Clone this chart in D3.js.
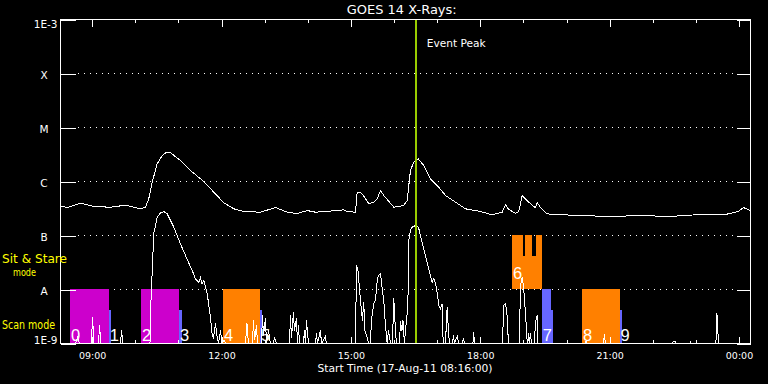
<!doctype html>
<html lang="en">
<head>
  <meta charset="utf-8">
  <title>GOES 14 X-Rays</title>
  <script src="https://cdn.jsdelivr.net/npm/d3@7"></script>
  <style>
    body { margin: 0; background: #000; }
    svg { display: block; font-family: "DejaVu Sans", sans-serif; }
  </style>
</head>
<body>
  <script type="text/javascript">
    // plot start 17-Aug-11 08:16:00, all times below are minutes after it
    var startTime = new Date(2011, 7, 17, 8, 16, 0);
    var endMinute = 960;
    var eventPeakMinute = 495;

    var levelValues = [1e-3, 1e-4, 1e-5, 1e-6, 1e-7, 1e-8, 1e-9];
    var levelLabels = ["1E-3", "X", "M", "C", "B", "A", "1E-9"];

    // 1-8 A channel [minute, W/m2]
    var xrsLong = [
      [0, 3.55e-7], [9.3, 3.30e-7], [27.8, 3.96e-7], [46.3, 3.44e-7], [69.6, 3.34e-7],
      [90.4, 3.64e-7], [111.3, 3.12e-7], [118.2, 3.34e-7], [122.8, 4.79e-7], [127.6, 9.7e-7],
      [134.5, 2.13e-6], [141.5, 3.03e-6], [147.5, 3.49e-6], [153.0, 3.40e-6], [167.0, 2.45e-6],
      [180.8, 1.60e-6], [199.3, 1.0e-6], [213.3, 6.34e-7], [227.2, 4.04e-7], [241.1, 3.12e-7],
      [255.0, 2.78e-7], [278.2, 2.70e-7], [299.1, 3.30e-7], [315.4, 2.70e-7], [329.3, 2.55e-7],
      [343.2, 2.90e-7], [354.7, 2.70e-7], [373.2, 2.82e-7], [394.1, 2.99e-7], [398.8, 2.78e-7],
      [410.4, 2.70e-7], [412.7, 6.18e-7], [417.3, 6.34e-7], [421.9, 5.35e-7], [428.9, 3.87e-7],
      [435.8, 4.14e-7], [440.6, 4.79e-7], [445.2, 6.81e-7], [449.8, 5.51e-7], [463.7, 3.34e-7],
      [477.6, 3.60e-7], [482.3, 4.45e-7], [486.9, 1.60e-6], [491.5, 2.28e-6], [497.6, 2.63e-6],
      [505.4, 1.98e-6], [514.7, 1.12e-6], [526.3, 7.84e-7], [535.6, 5.51e-7], [549.5, 4.14e-7],
      [563.4, 3.12e-7], [581.9, 2.82e-7], [600.6, 2.42e-7], [614.5, 2.70e-7], [619.1, 3.70e-7],
      [623.7, 3.03e-7], [633.0, 2.59e-7], [637.6, 2.78e-7], [642.3, 5.51e-7], [651.5, 4.14e-7],
      [660.8, 3.26e-7], [663.2, 4.04e-7], [667.7, 3.34e-7], [677.0, 2.52e-7], [688.6, 2.45e-7],
      [723.4, 2.34e-7], [765.1, 2.25e-7], [806.8, 2.34e-7], [848.6, 2.25e-7], [890.3, 2.45e-7],
      [925.1, 2.45e-7], [943.2, 2.78e-7], [950.1, 3.30e-7], [959.9, 2.90e-7]
    ];

    // 0.5-4 A channel [minute, W/m2], floor is the bottom of the plot
    var xrsShort = [
      [0, 1e-9], [20.9, 1e-9], [23.6, 1.31e-9], [26.4, 1e-9],
      [43.1, 1e-9], [44.5, 3.07e-9], [46.6, 1e-9],
      [52.9, 1e-9], [54.3, 2.16e-9], [56.3, 1e-9],
      [83.5, 1e-9], [84.9, 1.74e-9], [86.9, 1e-9],
      [124.5, 1e-9], [125.9, 6.25e-9], [129.8, 1.09e-7], [134.5, 2.18e-7], [139.1, 2.61e-7],
      [143.7, 2.78e-7], [148.4, 2.52e-7], [157.6, 1.43e-7], [166.9, 7.02e-8], [173.9, 4.26e-8],
      [183.2, 2.25e-8], [187.8, 1.58e-8], [192.4, 1.36e-8], [194.8, 1.67e-8], [196.8, 1.29e-8],
      [199.3, 1.47e-8], [204.1, 8.32e-9], [208.7, 3.07e-9], [211.0, 1.47e-9], [212.8, 1.24e-9],
      [215.6, 2.35e-9], [218.0, 1.31e-9], [219.8, 1e-9], [222.6, 1.74e-9], [224.7, 1e-9],
      [227.2, 1.14e-9], [230.9, 1e-9],
      [257.4, 1e-9], [259.4, 2.35e-9], [261.5, 1e-9], [267.1, 1e-9], [268.5, 2.67e-9],
      [269.9, 1.14e-9], [272.7, 2.16e-9], [274.0, 1e-9],
      [279.6, 1e-9], [281.0, 3.30e-9], [282.4, 1.41e-9], [285.2, 2.90e-9], [286.6, 1e-9],
      [289.4, 1.74e-9], [292.1, 1e-9], [296.3, 1e-9], [297.7, 1.31e-9], [300.5, 1e-9],
      [318.6, 1e-9], [320.0, 3.30e-9], [321.3, 1.24e-9], [324.1, 3.75e-9], [325.5, 1.74e-9],
      [328.3, 2.90e-9], [329.7, 1e-9], [331.1, 2.16e-9], [332.5, 1e-9],
      [338.0, 1e-9], [339.4, 1.74e-9], [340.8, 1e-9], [342.2, 2.67e-9], [345.0, 1e-9],
      [354.7, 1e-9], [356.1, 1.53e-9], [357.5, 1e-9], [361.7, 1.74e-9], [363.1, 1e-9],
      [368.6, 1.35e-9], [370.0, 1e-9],
      [410.4, 1e-9], [411.8, 2.78e-8], [413.9, 2.25e-8], [417.3, 6.25e-9], [420.1, 2.67e-9],
      [421.9, 5.82e-9], [423.6, 1.74e-9], [426.6, 1.31e-9], [428.5, 1e-9],
      [431.2, 1e-9], [432.6, 2.67e-9], [435.8, 5.43e-9], [438.2, 6.25e-9], [441.0, 1.60e-8],
      [442.8, 1.82e-8], [445.2, 1.95e-8], [447.9, 9.58e-9], [449.8, 6.25e-9], [452.1, 2.16e-9],
      [454.5, 1e-9], [456.3, 1.74e-9], [459.1, 1e-9],
      [461.8, 1e-9], [463.7, 6.81e-9], [466.0, 1.74e-9], [467.4, 1e-9],
      [471.6, 1e-9], [473.0, 2.55e-9], [475.1, 1.74e-9], [476.5, 2.67e-9], [478.5, 1e-9],
      [479.9, 1.74e-9], [482.3, 3.60e-9], [483.4, 6.25e-9], [484.5, 8.07e-8], [486.9, 1.24e-7],
      [489.3, 1.43e-7], [493.8, 1.53e-7], [498.0, 1.43e-7], [500.8, 1.0e-7], [505.4, 5.67e-8],
      [510.1, 3.20e-8], [514.7, 1.82e-8], [517.1, 1.36e-8], [519.3, 1.58e-8], [521.7, 1.29e-8],
      [524.0, 8.91e-9], [526.3, 5.06e-9], [528.6, 4.45e-9], [531.0, 5.43e-9], [532.4, 1e-9],
      [535.6, 1e-9], [537.9, 4.70e-9], [539.7, 1.74e-9], [541.1, 1e-9],
      [545.3, 1e-9], [546.7, 1.41e-9], [548.1, 1e-9], [552.3, 1.41e-9], [553.7, 1e-9],
      [559.2, 1e-9], [560.6, 1.24e-9], [562.0, 1e-9],
      [573.8, 1e-9], [574.9, 1.62e-9], [575.9, 1e-9],
      [614.9, 1e-9], [616.7, 5.06e-9], [619.1, 5.51e-9], [621.4, 3.30e-9], [623.2, 1e-9],
      [638.5, 1e-9], [639.9, 1.19e-8], [642.3, 1.69e-8], [644.5, 1.04e-8], [646.9, 3.60e-9],
      [649.2, 1.14e-9], [650.3, 1e-9], [651.0, 1.53e-9], [652.4, 1e-9], [653.8, 1.53e-9], [655.2, 1e-9],
      [659.4, 1e-9], [660.8, 2.45e-9], [663.1, 3.30e-9], [664.2, 1e-9],
      [730.3, 1e-9], [731.3, 1.14e-9], [732.4, 1e-9],
      [755.4, 1e-9], [756.8, 1.47e-9], [758.1, 1e-9],
      [851.4, 1e-9], [852.8, 1.09e-9], [854.9, 1.09e-9], [856.2, 1e-9],
      [875.7, 1e-9], [876.4, 1.09e-9], [877.1, 1e-9],
      [911.9, 1e-9], [913.0, 3.60e-9], [914.0, 2.90e-9], [915.3, 1e-9],
      [959.9, 1e-9]
    ];

    // observation blocks (minutes, flux extent, colour)
    var obsStart  = [13.9, 67.7, 112.7, 165.5, 226.7, 278.2, 628.8, 643.7, 646.9, 656.6, 662.2, 670.1, 683.0, 726.2, 778.6];
    var obsEnd    = [67.7, 70.9, 165.5, 169.7, 278.2, 281.4, 643.7, 646.9, 656.6, 662.2, 670.1, 683.0, 685.8, 778.6, 782.5];
    var obsTop    = [1e-8, 4.08e-9, 1e-8, 4.08e-9, 1e-8, 4.08e-9, 1e-7, 4.14e-8, 1e-7, 4.14e-8, 1e-7, 1e-8, 4.08e-9, 1e-8, 4.08e-9];
    var obsBottom = [1e-9, 1e-9, 1e-9, 1e-9, 1e-9, 1e-9, 1e-8, 1e-8, 1e-8, 1e-8, 1e-8, 1e-9, 1e-9, 1e-9, 1e-9];
    var obsColor  = ["#cc00cc", "#6666ff", "#cc00cc", "#6666ff", "#ff8000", "#6666ff", "#ff8000", "#ff8000",
                     "#ff8000", "#ff8000", "#ff8000", "#6666ff", "#6666ff", "#ff8000", "#6666ff"];

    var labelText   = ["0", "1", "2", "3", "4", "5", "6", "7", "8", "9"];
    var labelMinute = [13.9, 67.7, 112.7, 165.5, 226.7, 278.2, 628.8, 670.1, 726.2, 778.6];
    var labelMode   = ["scan", "scan", "scan", "scan", "scan", "scan", "stare", "scan", "scan", "scan"];

    var width = 768, height = 384;
    var plotLeft = 60, plotTop = 19;
    var w = 690, h = 324;

    function toDate(m) {
      return new Date(startTime.getTime() + m * 60000);
    }

    var svg = d3.select("body").append("svg")
      .attr("width", width)
      .attr("height", height);

    svg.append("rect").attr("width", width).attr("height", height).attr("fill", "#000");

    var g = svg.append("g")
      .attr("transform", "translate(" + (plotLeft + 0.5) + "," + (plotTop + 0.5) + ")")
      .attr("shape-rendering", "crispEdges");

    var x = d3.scaleTime().domain([startTime, toDate(endMinute)]).range([0, w]);
    var y = d3.scaleLog().domain([1e-9, 1e-3]).range([h, 0]).clamp(true);

    // dotted class lines
    g.selectAll(".grid")
      .data(levelValues.slice(1, 6))
      .join("line")
      .attr("x1", 17).attr("x2", w - 14)
      .attr("y1", d => y(d)).attr("y2", d => y(d))
      .attr("stroke", "#fff")
      .attr("stroke-dasharray", "1,5");

    // observation blocks
    g.selectAll(".obs")
      .data(obsStart)
      .join("rect")
      .attr("x", (d, i) => x(toDate(obsStart[i])) - 0.5)
      .attr("width", (d, i) => x(toDate(obsEnd[i])) - x(toDate(obsStart[i])))
      .attr("y", (d, i) => y(obsTop[i]) - 0.5)
      .attr("height", (d, i) => y(obsBottom[i]) - y(obsTop[i]))
      .attr("fill", (d, i) => obsColor[i]);

    var line = d3.line()
      .x(d => x(toDate(d[0])))
      .y(d => y(d[1]));

    g.append("path").datum(xrsLong)
      .attr("fill", "none").attr("stroke", "#fff").attr("stroke-width", 1)
      .attr("d", line);

    g.append("path").datum(xrsShort)
      .attr("fill", "none").attr("stroke", "#fff").attr("stroke-width", 1)
      .attr("d", line);

    // event peak marker
    g.append("line")
      .attr("x1", x(toDate(eventPeakMinute))).attr("x2", x(toDate(eventPeakMinute)))
      .attr("y1", 0).attr("y2", h)
      .attr("stroke", "#99cc00").attr("stroke-width", 2);

    g.append("text")
      .attr("x", x(toDate(eventPeakMinute)) + 10.5)
      .attr("y", 27.5)
      .attr("fill", "#fff")
      .attr("font-size", 11)
      .attr("textLength", 59)
      .attr("lengthAdjust", "spacingAndGlyphs")
      .text("Event Peak");

    // block numbers
    g.selectAll(".num")
      .data(labelText)
      .join("text")
      .attr("x", (d, i) => x(toDate(labelMinute[i])) + 0.5)
      .attr("y", (d, i) => labelMode[i] == "scan" ? y(1e-9) - 3 : y(1e-8) - 10.5)
      .attr("fill", "#fff")
      .attr("font-family", "Liberation Sans, Arial, sans-serif")
      .attr("font-size", 16.5)
      .text(d => d);

    // time axes, top and bottom, major every 3 h and minor every hour
    function styleAxis(a) {
      a.select(".domain").remove();
      a.selectAll("line").attr("stroke", "#fff");
      a.selectAll("text").attr("fill", "#fff");
    }

    g.append("g")
      .call(d3.axisTop(x).ticks(d3.timeHour.every(3)).tickSize(-7).tickFormat(""))
      .call(styleAxis);
    g.append("g")
      .call(d3.axisTop(x).ticks(d3.timeHour.every(1)).tickSize(-3.5).tickFormat(""))
      .call(styleAxis);

    g.append("g")
      .attr("transform", "translate(0," + h + ")")
      .call(d3.axisBottom(x).ticks(d3.timeHour.every(1)).tickSize(-3.5).tickFormat(""))
      .call(styleAxis);
    g.append("g")
      .attr("transform", "translate(0," + h + ")")
      .call(d3.axisBottom(x).ticks(d3.timeHour.every(3)).tickSize(-7).tickPadding(9)
        .tickFormat(d3.timeFormat("%H:%M")))
      .call(styleAxis)
      .call(a => a.selectAll("text")
        .attr("font-family", "DejaVu Sans, sans-serif")
        .attr("font-size", 9.5));

    // flux axes
    var yLeft = g.append("g")
      .call(d3.axisLeft(y).tickValues(levelValues).tickSize(-15).tickPadding(3)
        .tickFormat((d, i) => levelLabels[i]))
      .call(styleAxis);

    yLeft.selectAll("text")
      .attr("font-family", "DejaVu Sans, sans-serif")
      .attr("font-size", 10.5)
      .attr("dy", null)
      .each(function (d, i) {
        var t = d3.select(this);
        if (i == 0) {
          t.attr("x", -3).attr("y", 7.5);
        } else if (i == levelValues.length - 1) {
          t.attr("x", -3).attr("y", 0);
        } else {
          t.attr("x", -16.5).attr("text-anchor", "middle").attr("y", 4.5);
        }
      });

    g.append("g")
      .attr("transform", "translate(" + w + ",0)")
      .call(d3.axisRight(y).tickValues(levelValues).tickSize(-14).tickFormat(""))
      .call(styleAxis);

    g.append("rect")
      .attr("width", w).attr("height", h)
      .attr("fill", "none").attr("stroke", "#fff");

    // titles
    svg.append("text")
      .attr("x", 401.7).attr("y", 14)
      .attr("text-anchor", "middle")
      .attr("fill", "#fff")
      .attr("font-size", 12.5)
      .attr("textLength", 110)
      .attr("lengthAdjust", "spacingAndGlyphs")
      .text("GOES 14 X-Rays:");

    svg.append("text")
      .attr("x", 405).attr("y", 372)
      .attr("text-anchor", "middle")
      .attr("fill", "#fff")
      .attr("font-size", 10)
      .attr("textLength", 175)
      .attr("lengthAdjust", "spacingAndGlyphs")
      .text("Start Time (17-Aug-11 08:16:00)");

    // mode labels
    var modeLabels = [
      { text: "Sit & Stare", x: 2, y: 263, size: 12, len: 65 },
      { text: "mode", x: 13, y: 275.5, size: 10, len: 23 },
      { text: "Scan mode", x: 2, y: 328.7, size: 12, len: 53 }
    ];

    svg.selectAll(".mode")
      .data(modeLabels)
      .join("text")
      .attr("x", d => d.x).attr("y", d => d.y)
      .attr("fill", "#ffff00")
      .attr("font-size", d => d.size)
      .attr("textLength", d => d.len)
      .attr("lengthAdjust", "spacingAndGlyphs")
      .text(d => d.text);
  </script>
</body>
</html>
